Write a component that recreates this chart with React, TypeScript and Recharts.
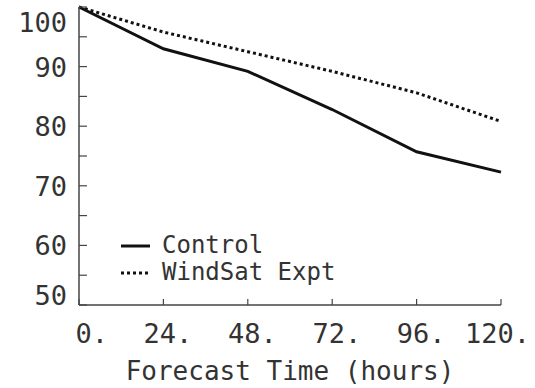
import React from 'react';
import { LineChart, Line, XAxis, YAxis, Legend } from 'recharts';

const hours = [0, 24, 48, 72, 96, 120];
const control = [100, 93.0, 89.2, 82.8, 75.7, 72.3];
const windsat = [100, 95.8, 92.5, 89.2, 85.6, 80.8];

const xTicks = [0, 24, 48, 72, 96, 120];
const yTicks = [50, 55, 60, 65, 70, 75, 80, 85, 90, 95, 100];

const seriesNames = ['Control', 'WindSat Expt'];

const chartData = hours.map((h, i) => ({ hour: h, control: control[i], windsat: windsat[i] }));

const FONT = '"DejaVu Sans Mono", monospace';
const INK = '#333';
const AXIS = '#444';

// left axis: inward ticks, labels on major values
const LeftTick = (props: any) => {
  const { x, y, payload } = props;
  const v = payload.value;
  const major = v % 10 === 0;
  // edge labels sit inside the box like the original plot
  let dy = 10;
  if (v === 100) dy = 25;
  if (v === 50) dy = 0;
  return (
    <g>
      <line x1={x} x2={x + 8} y1={y} y2={y} stroke={AXIS} strokeWidth={1.2} />
      {major && (
        <text x={x - 12} y={y + dy} textAnchor="end" fontFamily={FONT} fontSize={27} fill={INK}>
          {v}
        </text>
      )}
    </g>
  );
};

const RightTick = (props: any) => {
  const { x, y } = props;
  return <line x1={x} x2={x - 5} y1={y} y2={y} stroke={AXIS} strokeWidth={1.2} />;
};

const BottomTick = (props: any) => {
  const { x, y, payload } = props;
  return (
    <g>
      <line x1={x} x2={x} y1={y} y2={y - 6} stroke={AXIS} strokeWidth={1.2} />
      <text x={x + 29} y={y + 38} textAnchor="end" fontFamily={FONT} fontSize={27} fill={INK}>
        {`${payload.value}.`}
      </text>
    </g>
  );
};

const TopTick = (props: any) => {
  const { x, y } = props;
  return <line x1={x} x2={x} y1={y} y2={y + 7} stroke={AXIS} strokeWidth={1.2} />;
};

const renderLegend = () => (
  <div style={{ fontFamily: FONT, fontSize: 24, color: INK, lineHeight: '27px' }}>
    {seriesNames.map((name, i) => (
      <div key={name} style={{ display: 'flex', alignItems: 'center' }}>
        <svg width={30} height={10} style={{ marginRight: 11 }}>
          <line
            x1={0}
            x2={29}
            y1={5}
            y2={5}
            stroke="#111"
            strokeWidth={3}
            strokeDasharray={i === 1 ? '3 3' : undefined}
          />
        </svg>
        <span>{name}</span>
      </div>
    ))}
  </div>
);

export default function App() {
  return (
    <div style={{ position: 'absolute', left: 0, top: 0, width: 535, height: 388, background: '#fff' }}>
      <LineChart
        width={535}
        height={388}
        data={chartData}
        margin={{ top: 7, right: 34, bottom: 0, left: 0 }}
      >
        <XAxis
          dataKey="hour"
          type="number"
          domain={[0, 120]}
          ticks={xTicks}
          height={83}
          axisLine={{ stroke: AXIS, strokeWidth: 1.5 }}
          tickLine={false}
          tickSize={0}
          tickMargin={0}
          tick={<BottomTick />}
          interval={0}
          label={{
            value: 'Forecast Time (hours)',
            position: 'insideBottom',
            offset: 8,
            fontFamily: FONT,
            fontSize: 26,
            fill: INK,
          }}
        />
        <XAxis
          xAxisId="top"
          dataKey="hour"
          type="number"
          orientation="top"
          domain={[0, 120]}
          ticks={[24, 48, 72, 96]}
          height={0}
          axisLine={{ stroke: AXIS, strokeWidth: 1.5 }}
          tickLine={false}
          tickSize={0}
          tickMargin={0}
          tick={<TopTick />}
          interval={0}
        />
        <YAxis
          type="number"
          domain={[50, 100]}
          ticks={yTicks}
          width={79}
          axisLine={{ stroke: AXIS, strokeWidth: 1.5 }}
          tickLine={false}
          tickSize={0}
          tickMargin={0}
          tick={<LeftTick />}
          interval={0}
        />
        <YAxis
          yAxisId="right"
          orientation="right"
          type="number"
          domain={[50, 100]}
          ticks={yTicks.slice(1, -1)}
          width={0}
          axisLine={{ stroke: AXIS, strokeWidth: 1.5 }}
          tickLine={false}
          tickSize={0}
          tickMargin={0}
          tick={<RightTick />}
          interval={0}
        />
        <Legend
          content={renderLegend}
          layout="vertical"
          align="center"
          verticalAlign="middle"
          wrapperStyle={{ position: 'absolute', left: 121, top: 232, width: 260 }}
        />
        <Line
          dataKey="windsat"
          stroke="#111"
          strokeWidth={3}
          strokeDasharray="3 3"
          dot={false}
          isAnimationActive={false}
        />
        <Line
          dataKey="control"
          stroke="#111"
          strokeWidth={3}
          dot={false}
          isAnimationActive={false}
        />
      </LineChart>
    </div>
  );
}
